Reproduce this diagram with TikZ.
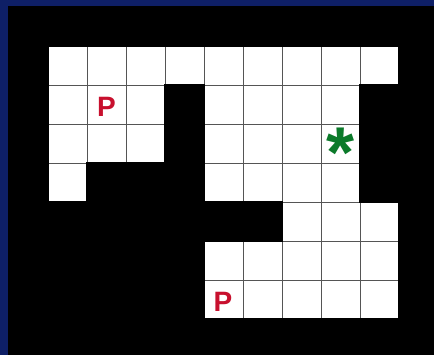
\documentclass[tikz,border=0pt]{standalone}
\usepackage{fontspec}
\setmainfont{Liberation Sans}
\definecolor{frameblue}{HTML}{0E1F66}
\definecolor{pred}{HTML}{C8102E}
\definecolor{sgreen}{HTML}{0B7A2A}
\definecolor{gridgray}{HTML}{555555}
\tikzset{
  cell/.style={fill=white,draw=gridgray,line width=0.75pt},
  blk/.style={fill=black,draw=black,line width=1.2pt},
  ptext/.style={text=pred,font=\fontsize{21}{21}\selectfont\bfseries,inner sep=0pt},
  stext/.style={text=sgreen,font=\fontsize{54}{54}\selectfont\bfseries,inner sep=0pt}
}
\begin{document}
\begin{tikzpicture}[x=0.75pt,y=-0.75pt]
\useasboundingbox (0,0) rectangle (434,355);
\fill[frameblue] (0,0) rectangle (434,355);
\fill[black] (8,6) rectangle (434,355);
\def\cs{39}
\foreach \c/\r in {0/0,1/0,2/0,3/0,4/0,5/0,6/0,7/0,8/0,
                   0/1,1/1,2/1,4/1,5/1,6/1,7/1,
                   0/2,1/2,2/2,4/2,5/2,6/2,7/2,
                   0/3,4/3,5/3,6/3,7/3,
                   6/4,7/4,8/4,
                   4/5,5/5,6/5,7/5,8/5,
                   4/6,5/6,6/6,7/6,8/6}{
  \draw[cell] ({48+\c*\cs},{46+\r*\cs}) rectangle ({48+(\c+1)*\cs},{46+(\r+1)*\cs});
}
\foreach \c/\r in {3/1,8/1,3/2,8/2,1/3,2/3,3/3,8/3,
                   0/4,1/4,2/4,3/4,4/4,5/4,
                   0/5,1/5,2/5,3/5,
                   0/6,1/6,2/6,3/6}{
  \draw[blk] ({48+\c*\cs},{46+\r*\cs}) rectangle ({48+(\c+1)*\cs},{46+(\r+1)*\cs});
}
\draw[black,line width=1.2pt] (48,46) rectangle (399,319);
\node[ptext] (p1) at (106.5,107) {P};
\node[ptext] (p2) at (223,302) {P};
\node[stext] (star) at (340.5,153) {*};
\end{tikzpicture}
\end{document}
